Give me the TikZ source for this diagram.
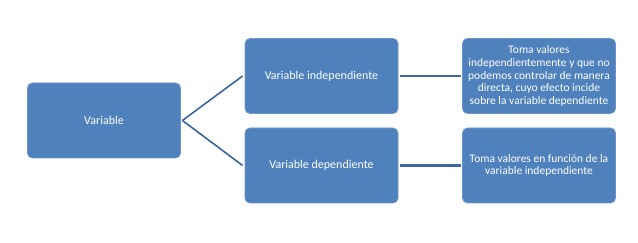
\documentclass[tikz,border=0pt]{standalone}
\usepackage{fontspec}
\setmainfont{Carlito}
\begin{document}
\begin{tikzpicture}[x=1pt,y=-1pt,
  box/.style={draw=boxedge,fill=boxfill,rounded corners=5pt,line width=0.8pt,
    minimum width=153pt,minimum height=75pt,inner sep=2pt,
    text=white,align=center,font=\fontsize{12}{14}\selectfont},
  note/.style={box,font=\fontsize{11.5}{12.8}\selectfont},
  link/.style={draw=linkcol,line width=2.2pt}]
\definecolor{boxfill}{HTML}{4F81BD}
\definecolor{boxedge}{HTML}{6B95C8}
\definecolor{linkcol}{HTML}{3A679D}
\useasboundingbox (0,0) rectangle (638,243);
\node[box] (var) at (104,120.5) {Variable};
\node[box] (ind) at (321.5,76) {Variable independiente};
\node[box] (dep) at (321.5,165.5) {Variable dependiente};
\node[note] (dind) at (539,76) {Toma valores\\independientemente y que no\\podemos controlar de manera\\directa, cuyo efecto incide\\sobre la variable dependiente};
\node[note] (ddep) at (539,165.5) {Toma valores en función de la\\variable independiente};
\coordinate (fork) at ([xshift=1.5pt]var.east);
\draw[link,line width=1.6pt] (fork) -- ([xshift=-2pt]ind.west);
\draw[link,line width=1.6pt] (fork) -- ([xshift=-2pt]dep.west);
\draw[link] ([xshift=1.5pt]ind.east) -- ([xshift=-1.5pt]dind.west);
\draw[link] ([xshift=1.5pt]dep.east) -- ([xshift=-1.5pt]ddep.west);
\end{tikzpicture}
\end{document}
